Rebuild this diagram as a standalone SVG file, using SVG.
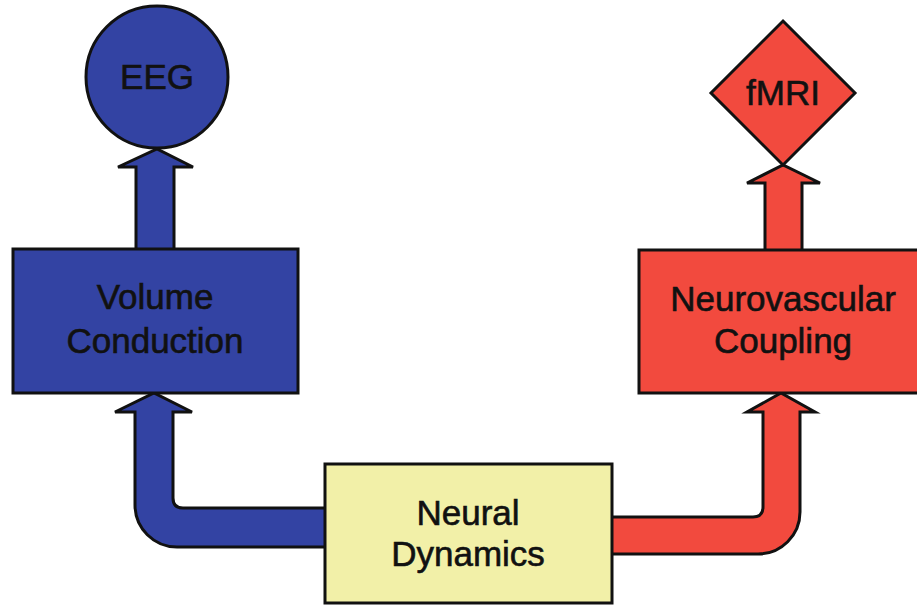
<svg xmlns="http://www.w3.org/2000/svg" width="917" height="606" viewBox="0 0 917 606">
<style>
.s{stroke:#111;stroke-width:3;stroke-linejoin:miter}
.b{fill:#3343a3}
.r{fill:#f24a3e}
.y{fill:#f2f0a8}
text{font-family:"Liberation Sans",Arial,sans-serif;font-size:35px;fill:#111;stroke:#111;stroke-width:0.6;text-anchor:middle}
</style>
<rect width="917" height="606" fill="#fff"/>
<g id="connectors">
<path class="s b" d="M136 250 L136 167 L118 167 L157 149 L193 167 L174 167 L174 250 Z"/>
<path class="s b" d="M326 508 L183 508 Q173 508 173 498 L173 412 L192 412 L154 393 L115 412 L135 412 L135 505 A42 42 0 0 0 177 547 L326 547 Z"/>
<path class="s r" d="M611 517 L753 517 Q763 517 763 507 L763 412 L747 412 L781 393 L815 412 L800 412 L800 512 A42 42 0 0 1 758 554 L611 554 Z"/>
<path class="s r" d="M765 251 L765 183 L747 183 L783 165 L820 183 L802 183 L802 251 Z"/>
</g>
<g id="eeg">
<circle class="s b" cx="157" cy="77" r="71"/>
<text x="157" y="89">EEG</text>
</g>
<g id="fmri">
<polygon class="s r" points="783,21 855,93 783,165 711,93"/>
<text x="783" y="105">fMRI</text>
</g>
<g id="volume">
<rect class="s b" x="13" y="249" width="285" height="144"/>
<text x="155" y="309">Volume</text>
<text x="155" y="353">Conduction</text>
</g>
<g id="neurovascular">
<rect class="s r" x="639" y="250" width="290" height="143"/>
<text x="783" y="311">Neurovascular</text>
<text x="783" y="353">Coupling</text>
</g>
<g id="neural">
<rect class="s y" x="325" y="464" width="287" height="139"/>
<text x="468" y="525">Neural</text>
<text x="468" y="566">Dynamics</text>
</g>
</svg>
